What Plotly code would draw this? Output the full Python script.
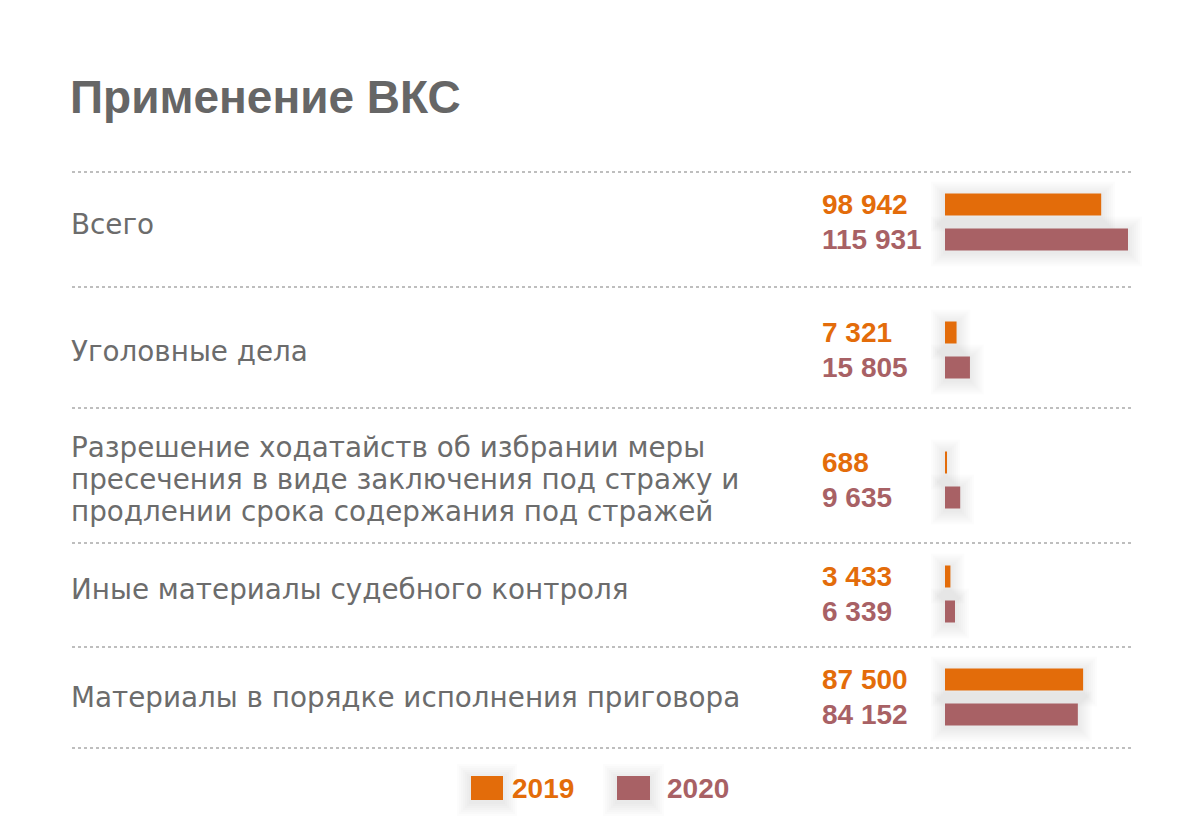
import plotly.graph_objects as go

# ---- data ----
categories = [
    "Всего",
    "Уголовные дела",
    "Разрешение ходатайств об избрании меры<br>пресечения в виде заключения под стражу и<br>продлении срока содержания под стражей",
    "Иные материалы судебного контроля",
    "Материалы в порядке исполнения приговора",
]
values_2019 = [98942, 7321, 688, 3433, 87500]
values_2020 = [115931, 15805, 9635, 6339, 84152]
series_names = ["2019", "2020"]

# ---- layout / style ----
W, H = 1200, 830
OX, OY = 8, 8  # page body margin offset
row_centers = [222, 350, 480, 594, 697]
label_y = [224, 351, 479, 589, 697]
line_gap = 32
sep_lines = [172, 287, 408, 543, 647, 748]
offset = 17.5
bar_h = 22
colors = ["#E36C0A", "#A86165"]
text_gray = "#6c6c6c"
title_gray = "#666666"
LABEL_FONT = "DejaVu Sans"
NUM_FONT = "Liberation Sans"

def px(x):
    return (x - OX) / W

def py(y):
    return y - OY

def fmt(v):
    return f"{v:,}".replace(",", " ")

bar_x0 = 945          # pixel position of value 0
ax_x0, ax_x1 = 920, 1160  # axis domain in pixels (room for shadows)
px_per_unit = 183 / 115931
xmin = -(bar_x0 - ax_x0) / px_per_unit
xmax = (ax_x1 - bar_x0) / px_per_unit

fig = go.Figure()
y19 = [py(c - offset) for c in row_centers]
y20 = [py(c + offset) for c in row_centers]

shapes = []
# soft shadows behind bars
steps = (2, 4, 6, 8, 10, 12, 14)
for vals, ys in [(values_2019, y19), (values_2020, y20)]:
    for v, yy in zip(vals, ys):
        for g in steps:
            du = g / px_per_unit
            shapes.append(dict(type="rect", xref="x", yref="y", layer="below",
                               x0=-du, x1=v + du, y0=yy - bar_h / 2 - g + 2, y1=yy + bar_h / 2 + g + 2,
                               fillcolor="rgba(0,0,0,0.010)", line=dict(width=0)))

fig.add_trace(go.Bar(x=values_2019, y=y19, orientation="h", width=bar_h, base=0,
                     marker=dict(color=colors[0], line=dict(width=0)),
                     name=series_names[0], hoverinfo="x"))
fig.add_trace(go.Bar(x=values_2020, y=y20, orientation="h", width=bar_h, base=0,
                     marker=dict(color=colors[1], line=dict(width=0)),
                     name=series_names[1], hoverinfo="x"))

annotations = []
# title
annotations.append(dict(x=px(68), y=py(97), xref="paper", yref="y", text="<b>Применение ВКС</b>",
                        showarrow=False, xanchor="left", yanchor="middle",
                        font=dict(family=NUM_FONT, size=46, color=title_gray)))
# category labels
for cat, ly in zip(categories, label_y):
    lines = cat.split("<br>")
    n = len(lines)
    for i, ln in enumerate(lines):
        yy = ly + (i - (n - 1) / 2) * line_gap
        annotations.append(dict(x=px(69), y=py(yy), xref="paper", yref="y", text=ln,
                                showarrow=False, xanchor="left", yanchor="middle", align="left",
                                font=dict(family=LABEL_FONT, size=27.8, color=text_gray)))
# value labels
for vals, ys, col in [(values_2019, y19, colors[0]), (values_2020, y20, colors[1])]:
    for v, yy in zip(vals, ys):
        annotations.append(dict(x=px(820), y=yy, xref="paper", yref="y", text=f"<b>{fmt(v)}</b>",
                                showarrow=False, xanchor="left", yanchor="middle",
                                font=dict(family=NUM_FONT, size=28, color=col)))
# separator lines
for sy in sep_lines:
    shapes.append(dict(type="line", xref="paper", yref="y", x0=px(72), x1=px(1134), y0=py(sy), y1=py(sy),
                       line=dict(color="#a9a9a9", width=1.6, dash="3px,3px")))
# legend
leg = [(471, 503, 510), (617, 650, 665)]
for (sx0, sx1, tx), name, col in zip(leg, series_names, colors):
    for g in steps:
        shapes.append(dict(type="rect", xref="paper", yref="y", layer="below",
                           x0=px(sx0 - g), x1=px(sx1 + g), y0=py(776 - g + 2), y1=py(800 + g + 2),
                           fillcolor="rgba(0,0,0,0.010)", line=dict(width=0)))
    shapes.append(dict(type="rect", xref="paper", yref="y", x0=px(sx0), x1=px(sx1), y0=py(776), y1=py(800),
                       fillcolor=col, line=dict(width=0)))
    annotations.append(dict(x=px(tx), y=py(788), xref="paper", yref="y", text=f"<b>{name}</b>",
                            showarrow=False, xanchor="left", yanchor="middle",
                            font=dict(family=NUM_FONT, size=28, color=col)))

fig.update_layout(
    width=W, height=H,
    margin=dict(l=0, r=0, t=0, b=0),
    paper_bgcolor="white", plot_bgcolor="rgba(0,0,0,0)",
    showlegend=False,
    barmode="overlay",
    xaxis=dict(domain=[px(ax_x0), px(ax_x1)], range=[xmin, xmax], visible=False, fixedrange=True),
    yaxis=dict(range=[H, 0], visible=False, fixedrange=True),
    annotations=annotations,
    shapes=shapes,
)
fig.write_html("out.html")
